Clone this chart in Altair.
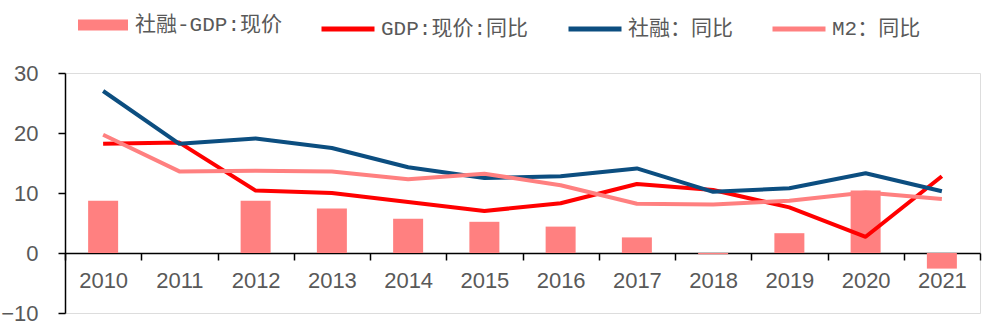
import altair as alt
import pandas as pd

years = ["2010", "2011", "2012", "2013", "2014", "2015", "2016", "2017", "2018", "2019", "2020", "2021"]
bar_name = "社融-GDP:现价"
bar_values = [8.7, 0.0, 8.7, 7.4, 5.7, 5.2, 4.4, 2.6, -0.2, 3.3, 10.4, -2.6]

line_names = ["GDP:现价:同比", "社融：同比", "M2：同比"]
gdp = [18.2, 18.4, 10.4, 10.0, 8.5, 7.0, 8.3, 11.5, 10.5, 7.6, 2.7, 12.8]
tsf = [27.0, 18.2, 19.1, 17.5, 14.3, 12.5, 12.8, 14.1, 10.2, 10.8, 13.3, 10.3]
m2 = [19.7, 13.6, 13.7, 13.6, 12.3, 13.2, 11.3, 8.2, 8.1, 8.7, 10.1, 9.0]
line_colors = ["#FF0000", "#0C4E80", "#FF8080"]
bar_color = "#FF8080"

bar_df = pd.DataFrame({"year": years, "value": bar_values, "series": bar_name})
line_df = pd.concat([
    pd.DataFrame({"year": years, "value": vals, "series": name})
    for name, vals in zip(line_names, [gdp, tsf, m2])
])

label_color = "#595959"
legend_font = "Liberation Mono, Noto Sans CJK SC"

x_enc = alt.X(
    "year:O",
    scale=alt.Scale(domain=years, paddingInner=0, paddingOuter=0),
    axis=alt.Axis(
        title=None, labelAngle=0, offset=-60, tickBand="extent", tickSize=7,
        labelPadding=10, labelFontSize=22, labelFont="Liberation Sans",
        labelColor=label_color, domainColor="#000000", tickColor="#000000",
        domainWidth=1.5, tickWidth=1.5, grid=False,
    ),
)
y_enc = alt.Y(
    "value:Q",
    scale=alt.Scale(domain=[-10, 30], nice=False),
    axis=alt.Axis(
        title=None, values=[-10, 0, 10, 20, 30], tickSize=7, labelPadding=20,
        labelFontSize=22, labelFont="Liberation Sans", labelColor=label_color,
        domainColor="#000000", tickColor="#000000", domainWidth=1.5,
        tickWidth=1.5, grid=False,
    ),
)

bars = alt.Chart(bar_df).mark_bar(size=30).encode(
    x=x_enc,
    y=y_enc,
    fill=alt.Fill(
        "series:N",
        scale=alt.Scale(domain=[bar_name], range=[bar_color]),
        legend=alt.Legend(
            orient="none", legendX=13, legendY=-73, title=None, padding=0,
            symbolType="M-1,-0.22H1V0.22H-1Z", symbolSize=2500,
            symbolStrokeWidth=0, symbolOpacity=1, labelFont=legend_font,
            labelFontSize=21, labelColor=label_color, labelOffset=7,
        ),
    ),
)

lines = alt.Chart(line_df).mark_line(strokeWidth=4, strokeJoin="round").encode(
    x=x_enc,
    y=y_enc,
    stroke=alt.Stroke(
        "series:N",
        scale=alt.Scale(domain=line_names, range=line_colors),
        legend=alt.Legend(
            orient="none", legendX=254, legendY=-73, title=None, padding=0,
            direction="horizontal", columnPadding=29, symbolType="stroke",
            symbolSize=2809, symbolStrokeWidth=5, labelFont=legend_font,
            labelFontSize=21, labelColor=label_color, labelOffset=4,
        ),
    ),
    order=alt.Order("year:O"),
)

chart = alt.layer(bars, lines).properties(
    width=915,
    height=240,
    autosize=alt.AutoSizeParams(type="none"),
    padding={"left": 65, "top": 73, "right": 20, "bottom": 22},
).configure_view(stroke=None).configure(background="#FFFFFF")

chart.save("out.html", embed_options={"renderer": "svg", "actions": False})
